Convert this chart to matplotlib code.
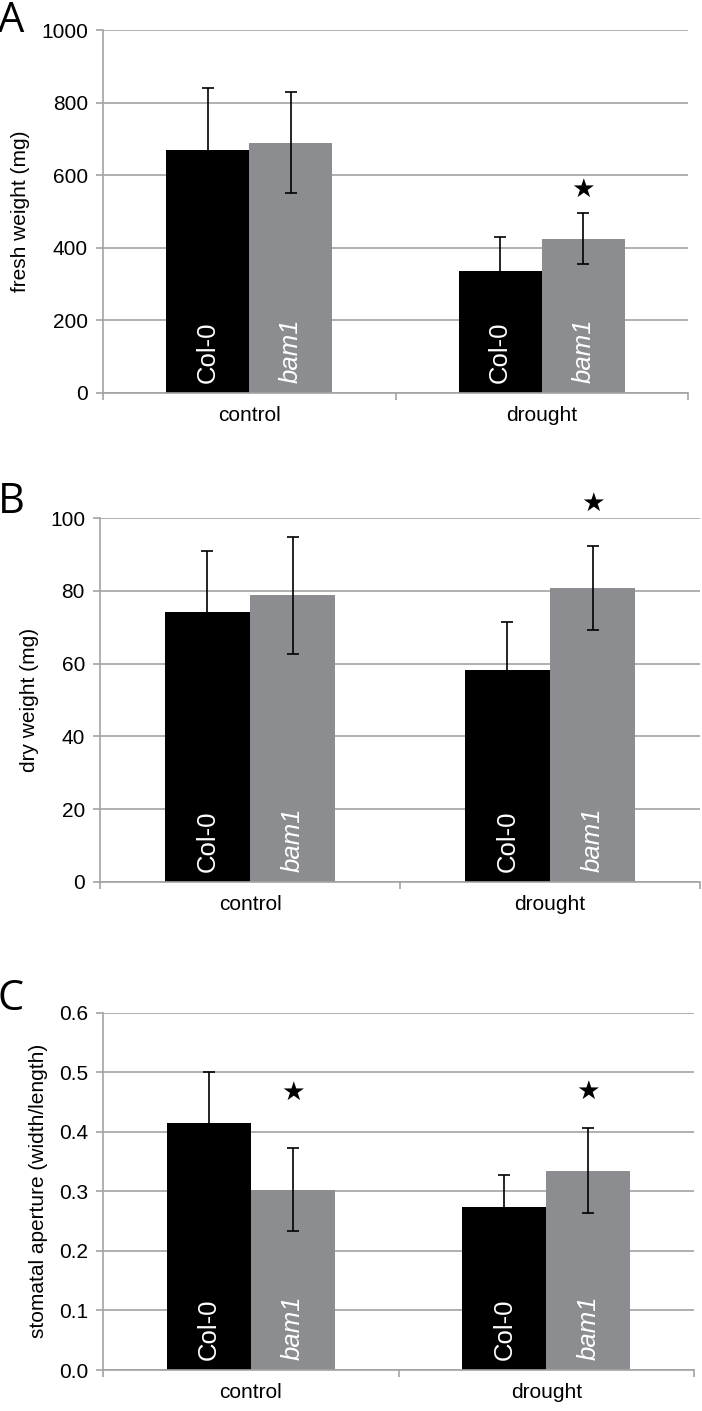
import matplotlib

matplotlib.use("Agg")
import matplotlib.pyplot as plt
from matplotlib.ticker import FormatStrFormatter

GROUPS = ["control", "drought"]

FRESH_COL0 = [669, 337]
FRESH_COL0_ERR = [172, 94]
FRESH_BAM1 = [690, 425]
FRESH_BAM1_ERR = [139, 70]
FRESH_STARS = [None, 559]  # star height above bam1, per group

DRY_COL0 = [74.3, 58.3]
DRY_COL0_ERR = [16.8, 13.1]
DRY_BAM1 = [78.8, 80.9]
DRY_BAM1_ERR = [16.1, 11.5]
DRY_STARS = [None, 104]

STOMA_COL0 = [0.414, 0.273]
STOMA_COL0_ERR = [0.086, 0.054]
STOMA_BAM1 = [0.303, 0.335]
STOMA_BAM1_ERR = [0.070, 0.072]
STOMA_STARS = [0.465, 0.467]

BLACK = "#000000"
GREY = "#8c8d90"
GRID = "#a3a3a3"
SANS = "Liberation Sans"

plt.rcParams["font.family"] = SANS


def panel(ax, col0, col0_err, bam1, bam1_err, stars, ylim, step, fmt, ylabel):
    w = 0.284
    x = list(range(len(GROUPS)))
    xc = [i - w / 2 for i in x]
    xb = [i + w / 2 for i in x]
    ax.bar(xc, col0, w, color=BLACK, zorder=2)
    ax.bar(xb, bam1, w, color=GREY, zorder=2)
    ax.errorbar(xc, col0, yerr=col0_err, fmt="none", ecolor="black",
                elinewidth=1.2, capsize=4.5, capthick=1.2, zorder=3)
    ax.errorbar(xb, bam1, yerr=bam1_err, fmt="none", ecolor="black",
                elinewidth=1.2, capsize=4.5, capthick=1.2, zorder=3)
    for i in x:
        ax.annotate("Col-0", xy=(xc[i], 0), xytext=(0, 7), textcoords="offset points",
                    rotation=90, ha="center", va="bottom", color="white",
                    fontsize=18.5, zorder=4)
        ax.annotate("bam1", xy=(xb[i], 0), xytext=(0, 7), textcoords="offset points",
                    rotation=90, ha="center", va="bottom", color="white",
                    fontsize=18.5, style="italic", zorder=4)
        if stars[i] is not None:
            ax.text(xb[i], stars[i], "\u2605", ha="center", va="center",
                    fontsize=19, family="DejaVu Sans", clip_on=False, zorder=4)

    ax.set_xlim(-0.5, 1.5)
    ax.set_ylim(*ylim)
    ticks = []
    t = ylim[0]
    while t <= ylim[1] + step / 1000:
        ticks.append(t)
        t += step
    ax.set_yticks(ticks)
    ax.yaxis.set_major_formatter(FormatStrFormatter(fmt))
    ax.set_xticks(x)
    ax.set_xticklabels(GROUPS)
    ax.set_xticks([-0.5, 0.5, 1.5], minor=True)
    ax.tick_params(axis="x", which="major", length=0, pad=9.5, labelsize=15)
    ax.tick_params(axis="x", which="minor", length=5, width=1.2, color=GRID)
    ax.tick_params(axis="y", length=4.8, width=1.2, color=GRID, pad=6, labelsize=15)
    ax.set_axisbelow(True)
    ax.yaxis.grid(True, color=GRID, lw=1.2)
    for sp in ("top", "right"):
        ax.spines[sp].set_visible(False)
    for sp in ("left", "bottom"):
        ax.spines[sp].set_color(GRID)
        ax.spines[sp].set_linewidth(1.2)
    ax.set_ylabel(ylabel, fontsize=15, labelpad=8)


fig = plt.figure(figsize=(7.02, 14.11), dpi=100)
H = 1411
W = 702

axA = fig.add_axes([103 / W, 1 - 393 / H, 585 / W, 363 / H])
panel(axA, FRESH_COL0, FRESH_COL0_ERR, FRESH_BAM1, FRESH_BAM1_ERR, FRESH_STARS,
      (0, 1000), 200, "%d", "fresh weight (mg)")

axB = fig.add_axes([100 / W, 1 - 881.7 / H, 600 / W, 363.4 / H])
panel(axB, DRY_COL0, DRY_COL0_ERR, DRY_BAM1, DRY_BAM1_ERR, DRY_STARS,
      (0, 100), 20, "%d", "dry weight (mg)")

axC = fig.add_axes([103 / W, 1 - 1370 / H, 591 / W, 357.3 / H])
panel(axC, STOMA_COL0, STOMA_COL0_ERR, STOMA_BAM1, STOMA_BAM1_ERR, STOMA_STARS,
      (0, 0.6), 0.1, "%.1f", "stomatal aperture (width/length)")

for letter, base in (("A", 32), ("B", 513), ("C", 1010)):
    fig.text(-0.003, 1 - base / H, letter, fontsize=30, family="Open Sans",
             ha="left", va="baseline")

fig.savefig("out.png", dpi=100)
